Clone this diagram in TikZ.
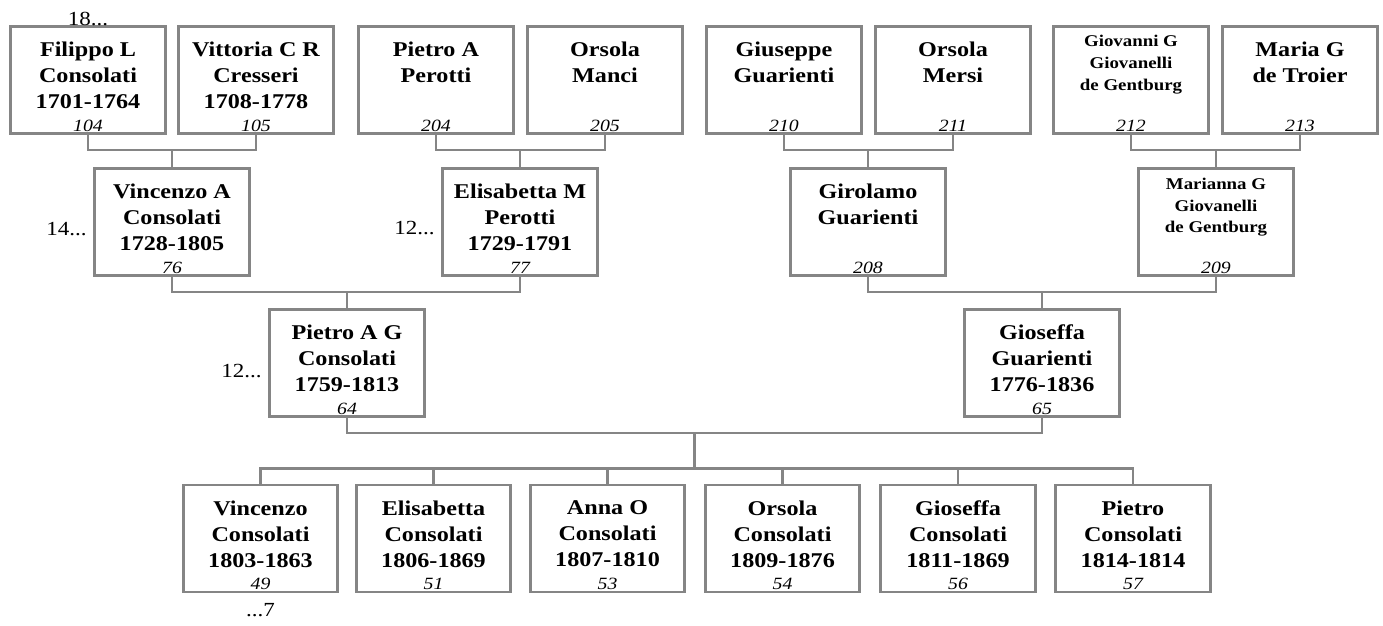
\documentclass[tikz,border=0pt]{standalone}
\usepackage{fontspec}
\setmainfont[FakeStretch=1.15]{Liberation Serif}
\usetikzlibrary{positioning,calc}
\definecolor{linegray}{HTML}{858585}

\tikzset{
  pbox/.style={draw=linegray,line width=1.35pt,minimum width=77.3pt,minimum height=53.6pt,inner sep=0pt},
  pname/.style={inner sep=0pt,align=center,font=\fontsize{10.5}{13}\selectfont\bfseries},
  psmall/.style={inner sep=0pt,align=center,font=\fontsize{8.2}{10.8}\selectfont\bfseries},
  pnum/.style={inner sep=0pt,anchor=base,font=\fontsize{8.6}{9}\selectfont\itshape},
  ptag/.style={inner sep=0pt,font=\fontsize{10}{12}\selectfont},
  link/.style={draw=linegray,line width=1.3pt}
}

\begin{document}
\begin{tikzpicture}[x=0.5pt,y=-0.5pt]
\useasboundingbox (0,0) rectangle (1383,626);

% great-grandparents
\node[pbox] (p104) at (88,80) {};
\node[pname,below=8.3pt of p104.north] (n104) {Filippo L\\Consolati\\1701-1764};
\node[pnum] (i104) at ([yshift=1.8pt]p104.south) {104};
\node[pbox] (p105) at (256,80) {};
\node[pname,below=8.3pt of p105.north] (n105) {Vittoria C R\\Cresseri\\1708-1778};
\node[pnum] (i105) at ([yshift=1.8pt]p105.south) {105};
\node[pbox] (p204) at (436,80) {};
\node[pname,below=8.3pt of p204.north] (n204) {Pietro A\\Perotti};
\node[pnum] (i204) at ([yshift=1.8pt]p204.south) {204};
\node[pbox] (p205) at (605,80) {};
\node[pname,below=8.3pt of p205.north] (n205) {Orsola\\Manci};
\node[pnum] (i205) at ([yshift=1.8pt]p205.south) {205};
\node[pbox] (p210) at (784,80) {};
\node[pname,below=8.3pt of p210.north] (n210) {Giuseppe\\Guarienti};
\node[pnum] (i210) at ([yshift=1.8pt]p210.south) {210};
\node[pbox] (p211) at (953,80) {};
\node[pname,below=8.3pt of p211.north] (n211) {Orsola\\Mersi};
\node[pnum] (i211) at ([yshift=1.8pt]p211.south) {211};
\node[pbox] (p212) at (1131,80) {};
\node[psmall,below=5pt of p212.north] (n212) {Giovanni G\\Giovanelli\\de Gentburg};
\node[pnum] (i212) at ([yshift=1.8pt]p212.south) {212};
\node[pbox] (p213) at (1300,80) {};
\node[pname,below=8.3pt of p213.north] (n213) {Maria G\\de Troier};
\node[pnum] (i213) at ([yshift=1.8pt]p213.south) {213};

% grandparents
\node[pbox] (p76) at (172,222) {};
\node[pname,below=8.3pt of p76.north] (n76) {Vincenzo A\\Consolati\\1728-1805};
\node[pnum] (i76) at ([yshift=1.8pt]p76.south) {76};
\node[pbox] (p77) at (520,222) {};
\node[pname,below=8.3pt of p77.north] (n77) {Elisabetta M\\Perotti\\1729-1791};
\node[pnum] (i77) at ([yshift=1.8pt]p77.south) {77};
\node[pbox] (p208) at (868,222) {};
\node[pname,below=8.3pt of p208.north] (n208) {Girolamo\\Guarienti};
\node[pnum] (i208) at ([yshift=1.8pt]p208.south) {208};
\node[pbox] (p209) at (1216,222) {};
\node[psmall,below=5.3pt of p209.north] (n209) {Marianna G\\Giovanelli\\de Gentburg};
\node[pnum] (i209) at ([yshift=1.8pt]p209.south) {209};

% parents
\node[pbox] (p64) at (347,363) {};
\node[pname,below=8.3pt of p64.north] (n64) {Pietro A G\\Consolati\\1759-1813};
\node[pnum] (i64) at ([yshift=1.8pt]p64.south) {64};
\node[pbox] (p65) at (1042,363) {};
\node[pname,below=8.3pt of p65.north] (n65) {Gioseffa\\Guarienti\\1776-1836};
\node[pnum] (i65) at ([yshift=1.8pt]p65.south) {65};

% children
\node[pbox] (p49) at (260.5,538.5) {};
\node[pname,below=8.3pt of p49.north] (n49) {Vincenzo\\Consolati\\1803-1863};
\node[pnum] (i49) at ([yshift=1.8pt]p49.south) {49};
\node[pbox] (p51) at (433.5,538.5) {};
\node[pname,below=8.3pt of p51.north] (n51) {Elisabetta\\Consolati\\1806-1869};
\node[pnum] (i51) at ([yshift=1.8pt]p51.south) {51};
\node[pbox] (p53) at (607.5,538.5) {};
\node[pname,below=8.3pt of p53.north] (n53) {Anna O\\Consolati\\1807-1810};
\node[pnum] (i53) at ([yshift=1.8pt]p53.south) {53};
\node[pbox] (p54) at (782.5,538.5) {};
\node[pname,below=8.3pt of p54.north] (n54) {Orsola\\Consolati\\1809-1876};
\node[pnum] (i54) at ([yshift=1.8pt]p54.south) {54};
\node[pbox] (p56) at (958,538.5) {};
\node[pname,below=8.3pt of p56.north] (n56) {Gioseffa\\Consolati\\1811-1869};
\node[pnum] (i56) at ([yshift=1.8pt]p56.south) {56};
\node[pbox] (p57) at (1133,538.5) {};
\node[pname,below=8.3pt of p57.north] (n57) {Pietro\\Consolati\\1814-1814};
\node[pnum] (i57) at ([yshift=1.8pt]p57.south) {57};

% continuation marks
\node[ptag,anchor=base] (t104) at (p104.north) {18...};
\node[ptag,left=3.2pt of p76.west,yshift=-3.5pt] (t76) {14...};
\node[ptag,left=3.2pt of p77.west,yshift=-3pt] (t77) {12...};
\node[ptag,left=3.2pt of p64.west,yshift=-4pt] (t64) {12...};
\node[ptag,below=5pt of p49.south] (t49) {...7};

% couples and descent
\draw[link] (p104.south) -- ++(0,15) coordinate (j1) -| (p105.south);
\draw[link] (p76.north) -- (p76.north |- j1);
\draw[link] (p204.south) -- ++(0,15) coordinate (j2) -| (p205.south);
\draw[link] (p77.north) -- (p77.north |- j2);
\draw[link] (p210.south) -- ++(0,15) coordinate (j3) -| (p211.south);
\draw[link] (p208.north) -- (p208.north |- j3);
\draw[link] (p212.south) -- ++(0,15) coordinate (j4) -| (p213.south);
\draw[link] (p209.north) -- (p209.north |- j4);
\draw[link] (p76.south) -- ++(0,15) coordinate (j5) -| (p77.south);
\draw[link] (p64.north) -- (p64.north |- j5);
\draw[link] (p208.south) -- ++(0,15) coordinate (j6) -| (p209.south);
\draw[link] (p65.north) -- (p65.north |- j6);
\draw[link] (p64.south) -- ++(0,15) -| (p65.south);
\draw[link] (p49.north) -- ++(0,-15) coordinate (j7) -| (p57.north);
\coordinate (fam) at ($(p64.south)!0.5!(p65.south)+(0,15)$);
\draw[link] (fam) -- (fam |- j7);
\draw[link] (p51.north) -- (p51.north |- j7);
\draw[link] (p53.north) -- (p53.north |- j7);
\draw[link] (p54.north) -- (p54.north |- j7);
\draw[link] (p56.north) -- (p56.north |- j7);
\end{tikzpicture}
\end{document}
